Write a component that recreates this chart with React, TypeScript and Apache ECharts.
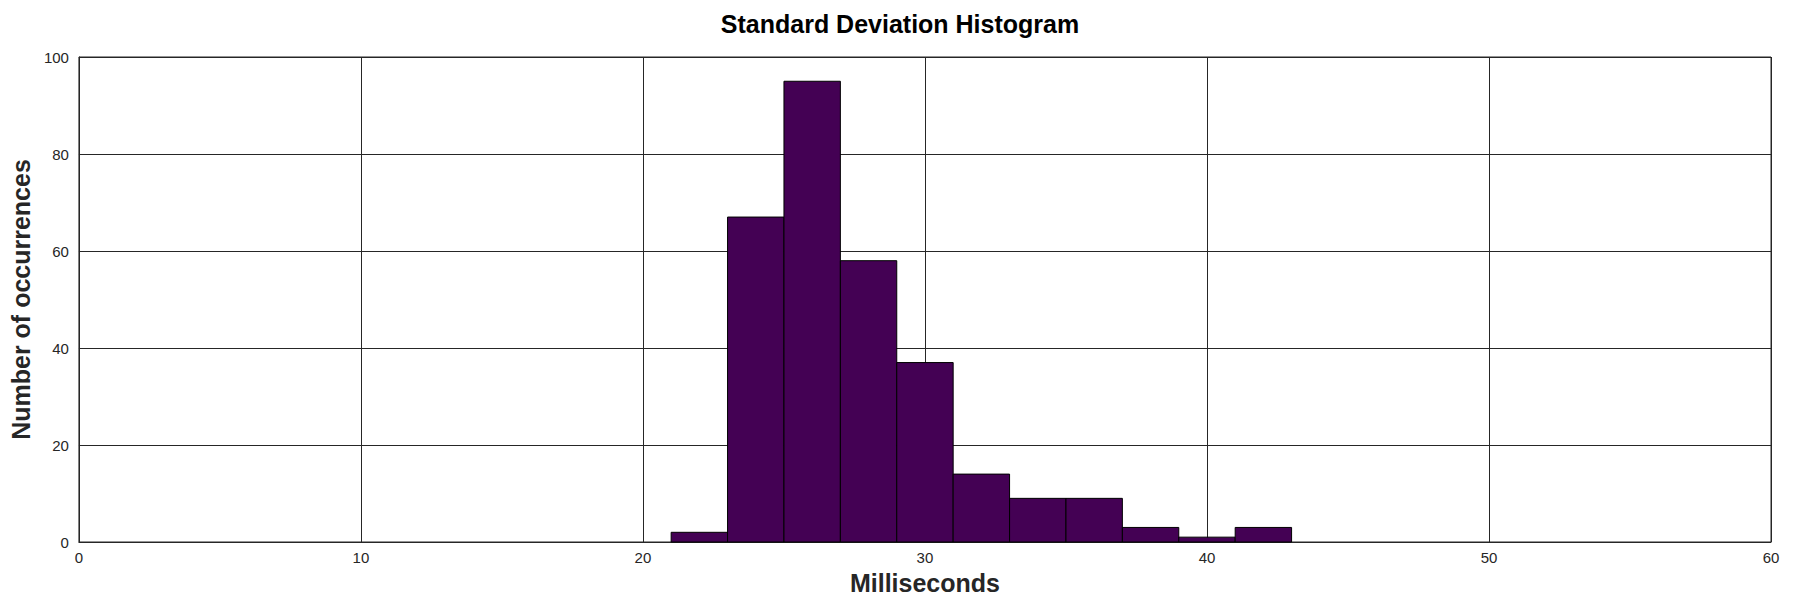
import React, { useEffect, useRef } from "react";
import * as echarts from "echarts";

const binStarts = [21, 23, 25, 27, 29, 31, 33, 35, 37, 39, 41];
const binEnds = [23, 25, 27, 29, 31, 33, 35, 37, 39, 41, 43];
const counts = [2, 67, 95, 58, 37, 14, 9, 9, 3, 1, 3];
const xTicks = [0, 10, 20, 30, 40, 50, 60];
const yTicks = [0, 20, 40, 60, 80, 100];

const FONT = "Liberation Sans, Arial, Helvetica, sans-serif";
const INK = "#262626";

export default function App() {
  const ref = useRef<HTMLDivElement>(null);
  useEffect(() => {
    document.body.style.margin = "0";
    if (!ref.current) return;
    const chart = echarts.init(ref.current, undefined, { renderer: "svg" });
    const data = binStarts.map((s, i) => [s, binEnds[i], counts[i]]);
    chart.setOption({
      animation: false,
      backgroundColor: "#ffffff",
      title: {
        text: "Standard Deviation Histogram",
        left: "center",
        top: 6,
        textStyle: { fontFamily: FONT, fontSize: 25, fontWeight: "bold", color: "#000000" },
      },
      grid: {
        left: 68,
        right: 29,
        top: 57,
        bottom: 52,
        show: true,
        borderColor: INK,
        borderWidth: 1,
        containLabel: false,
      },
      xAxis: {
        type: "value",
        min: xTicks[0],
        max: xTicks[xTicks.length - 1],
        interval: 10,
        name: "Milliseconds",
        nameLocation: "middle",
        nameGap: 28,
        nameTextStyle: { fontFamily: FONT, fontSize: 25, fontWeight: "bold", color: INK },
        axisLine: { show: true, lineStyle: { color: INK, width: 1 } },
        axisTick: { show: false },
        axisLabel: { fontFamily: FONT, fontSize: 15, color: INK, margin: 8 },
        splitLine: { show: true, lineStyle: { color: INK, width: 1 } },
      },
      yAxis: {
        type: "value",
        min: yTicks[0],
        max: yTicks[yTicks.length - 1],
        interval: 20,
        name: "Number of occurrences",
        nameLocation: "middle",
        nameGap: 40,
        nameTextStyle: { fontFamily: FONT, fontSize: 25, fontWeight: "bold", color: INK },
        axisLine: { show: true, lineStyle: { color: INK, width: 1 } },
        axisTick: { show: false },
        axisLabel: { fontFamily: FONT, fontSize: 15, color: INK, margin: 10 },
        splitLine: { show: true, lineStyle: { color: INK, width: 1 } },
      },
      series: [
        {
          type: "custom",
          data,
          encode: { x: [0, 1], y: 2 },
          renderItem: (params: any, api: any) => {
            const p0 = api.coord([api.value(0), api.value(2)]);
            const p1 = api.coord([api.value(1), 0]);
            return {
              type: "rect",
              shape: { x: p0[0], y: p0[1], width: p1[0] - p0[0], height: p1[1] - p0[1] },
              style: { fill: "#440154", stroke: "#000000", lineWidth: 1 },
            };
          },
        },
      ],
    });
    return () => chart.dispose();
  }, []);
  return <div ref={ref} style={{ width: 1800, height: 600 }} />;
}
